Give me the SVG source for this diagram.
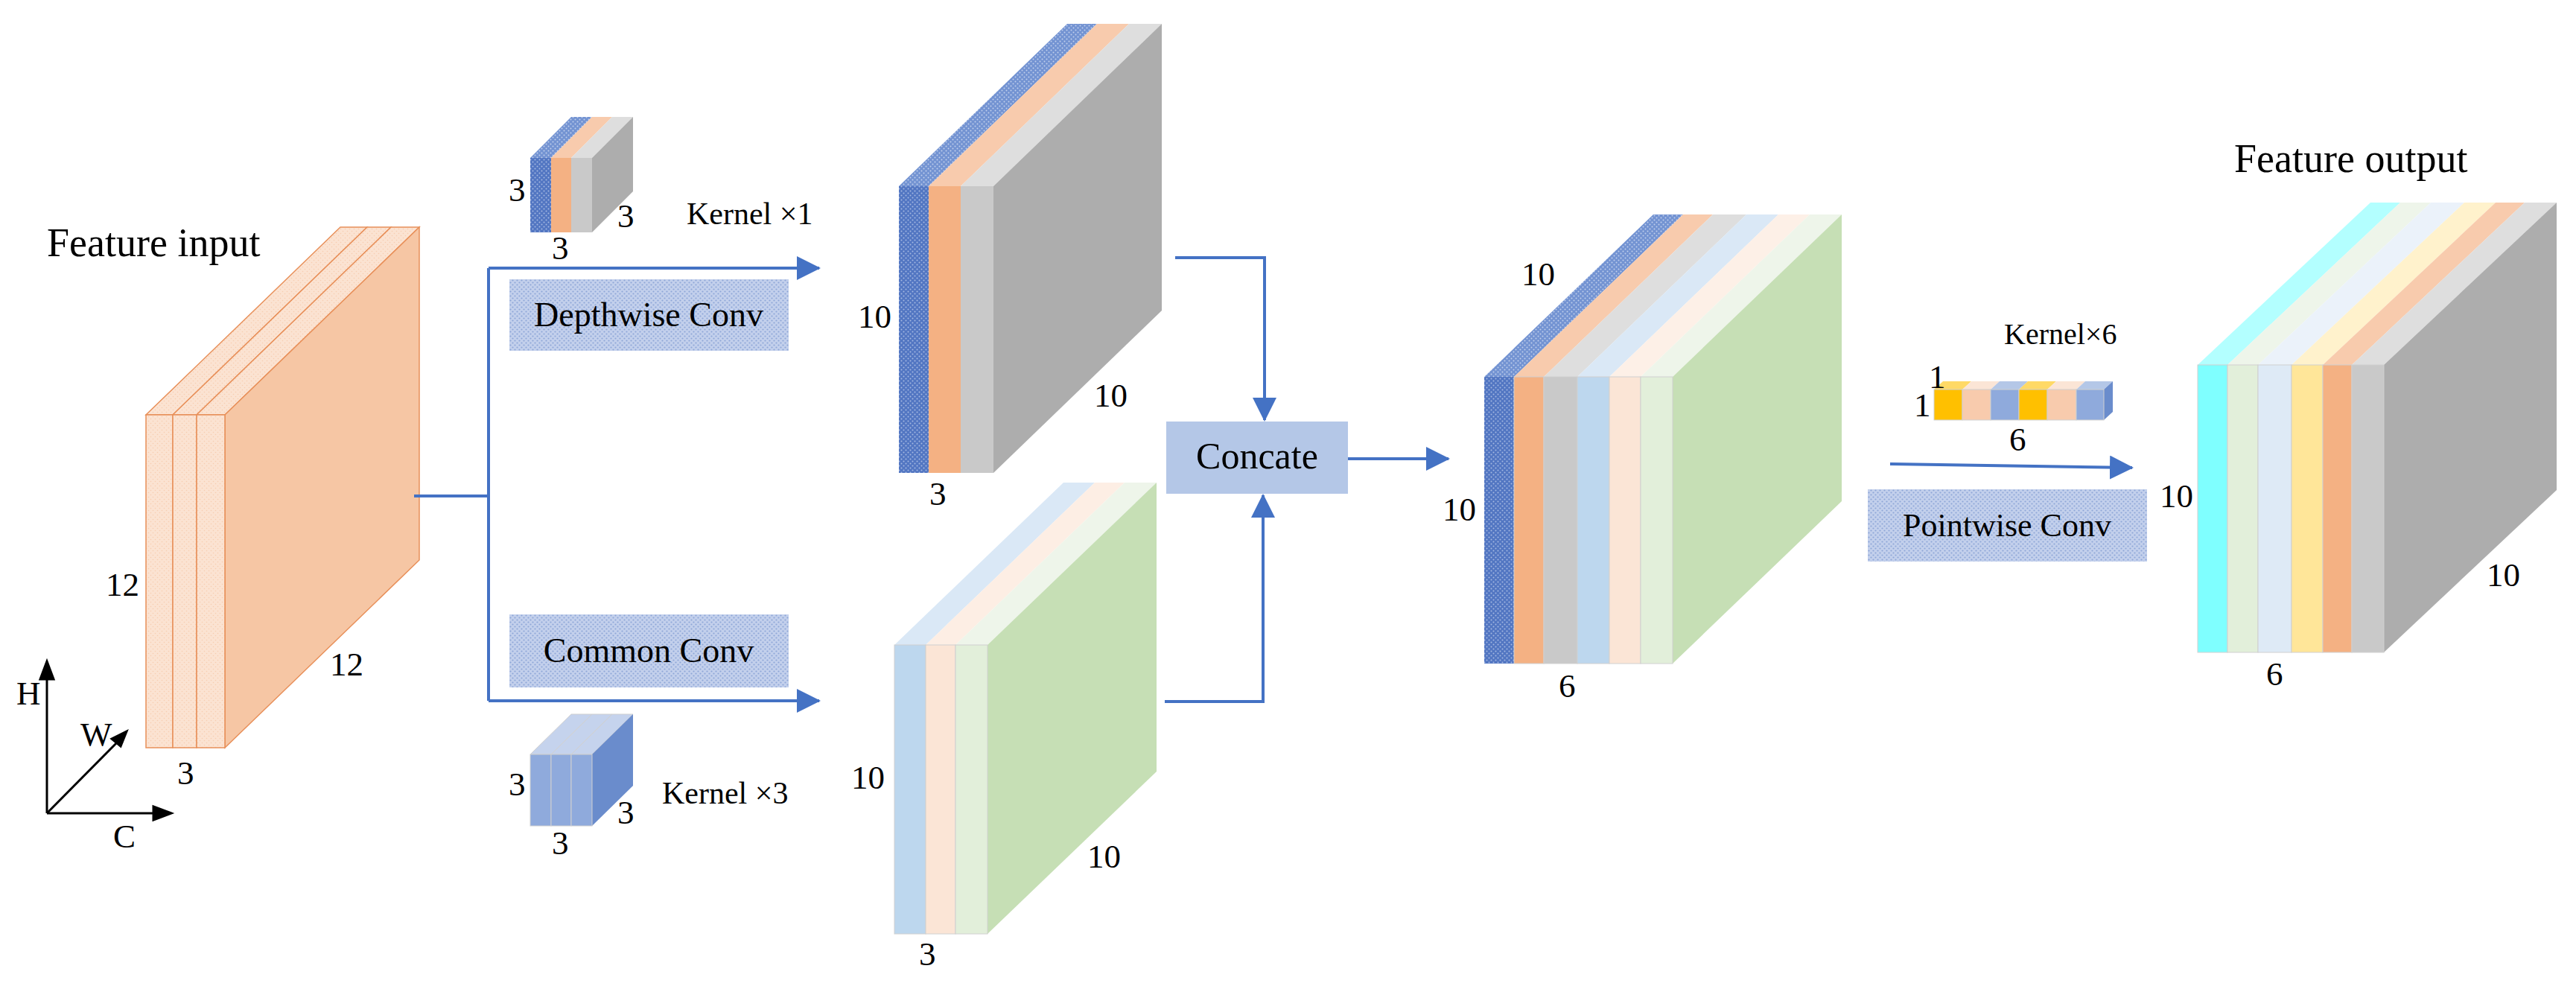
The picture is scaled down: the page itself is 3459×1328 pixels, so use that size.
<svg xmlns="http://www.w3.org/2000/svg" width="3459" height="1328" viewBox="0 0 3459 1328">
<style>
text{font-family:"Liberation Serif","DejaVu Serif",serif;fill:#000}
.n{font-size:45px}
.t{font-size:54px}
.c{stroke:#4472c4;stroke-width:4;fill:none}
.e{stroke:#d0d0d0;stroke-width:1}
</style>
<defs>
<pattern id="pb" width="6" height="6" patternUnits="userSpaceOnUse"><rect width="6" height="6" fill="#5276c2"/><circle cx="1.5" cy="1.5" r="1" fill="#a5b9e2"/><circle cx="4.5" cy="4.5" r="1" fill="#a5b9e2"/></pattern>
<pattern id="pbt" width="6" height="6" patternUnits="userSpaceOnUse"><rect width="6" height="6" fill="#7393d2"/><circle cx="1.5" cy="1.5" r="1" fill="#c0cfec"/><circle cx="4.5" cy="4.5" r="1" fill="#c0cfec"/></pattern>
<pattern id="pl" width="6" height="6" patternUnits="userSpaceOnUse"><rect width="6" height="6" fill="#c3d0ec"/><circle cx="1.5" cy="1.5" r="1.1" fill="#8fa7d8"/><circle cx="4.5" cy="4.5" r="1.1" fill="#8fa7d8"/></pattern>
<pattern id="po" width="6" height="6" patternUnits="userSpaceOnUse"><rect width="6" height="6" fill="#fbe3d2"/><circle cx="1.5" cy="1.5" r="0.8" fill="#f7cdb0"/><circle cx="4.5" cy="4.5" r="0.8" fill="#f7cdb0"/></pattern>
<marker id="ar" markerWidth="8" markerHeight="8" refX="7.5" refY="4" orient="auto" markerUnits="strokeWidth"><path d="M0,0 L8,4 L0,8 Z" fill="#4472c4"/></marker>
</defs>

<g id="feature-input">
<g stroke="#e8905a" stroke-width="1.5">
<polygon points="196,557 232,557 493,305 457,305" fill="url(#po)"/>
<polygon points="232,557 264,557 525,305 493,305" fill="url(#po)"/>
<polygon points="264,557 302,557 563,305 525,305" fill="url(#po)"/>
<polygon points="302,557 563,305 563,752 302,1004" fill="#f6c6a4"/>
<rect x="196" y="557" width="36" height="447" fill="url(#po)"/>
<rect x="232" y="557" width="32" height="447" fill="url(#po)"/>
<rect x="264" y="557" width="38" height="447" fill="url(#po)"/>
</g>
<text class="t" x="63" y="344">Feature input</text>
<text class="n" x="142" y="800">12</text>
<text class="n" x="443" y="907">12</text>
<text class="n" x="238" y="1053">3</text>
</g>

<g id="axes" stroke="#000" stroke-width="3" fill="none">
<line x1="63" y1="1092" x2="63" y2="906"/><polygon points="63,888 54,912 72,912" fill="#000"/>
<line x1="63" y1="1092" x2="212" y2="1092"/><polygon points="230,1092 206,1083 206,1101" fill="#000"/>
<line x1="63" y1="1092" x2="160" y2="994"/><polygon points="170,982 150,992 162,1002" fill="#000"/>
</g>
<g id="axis-labels">
<text class="n" x="22" y="946">H</text>
<text class="n" x="108" y="1001">W</text>
<text class="n" x="152" y="1138">C</text>
</g>

<g id="kernel1">
<polygon points="712,212 740,212 795,157 767,157" fill="url(#pbt)"/>
<polygon points="740,212 767,212 822,157 795,157" fill="#f8cbad"/>
<polygon points="767,212 795,212 850,157 822,157" fill="#dedede"/>
<polygon points="795,212 850,157 850,257 795,312" fill="#adadad"/>
<rect x="712" y="212" width="28" height="100" fill="url(#pb)"/>
<rect x="740" y="212" width="27" height="100" fill="#f4b183"/>
<rect x="767" y="212" width="28" height="100" fill="#c9c9c9"/>
<text class="n" x="683" y="270">3</text>
<text class="n" x="829" y="305">3</text>
<text class="n" x="741" y="348">3</text>
<text x="922" y="301" style="font-size:42px">Kernel ×1</text>
</g>

<g id="kernel3">
<polygon points="712,1013 740,1013 795,959 767,959" fill="#c5d3ed" class="e"/>
<polygon points="740,1013 767,1013 822,959 795,959" fill="#c5d3ed" class="e"/>
<polygon points="767,1013 795,1013 850,959 822,959" fill="#c5d3ed" class="e"/>
<polygon points="795,1013 850,959 850,1055 795,1109" fill="#6a8ccc"/>
<rect x="712" y="1013" width="28" height="96" fill="#8faadc" class="e"/>
<rect x="740" y="1013" width="27" height="96" fill="#8faadc" class="e"/>
<rect x="767" y="1013" width="28" height="96" fill="#8faadc" class="e"/>
<text class="n" x="683" y="1068">3</text>
<text class="n" x="829" y="1106">3</text>
<text class="n" x="741" y="1147">3</text>
<text x="889" y="1079" style="font-size:42px">Kernel ×3</text>
</g>

<g id="depthwise-conv">
<rect x="684" y="375" width="375" height="96" fill="url(#pl)"/>
<text x="871" y="438" text-anchor="middle" style="font-size:46px">Depthwise Conv</text>
</g>
<g id="common-conv">
<rect x="684" y="825" width="375" height="98" fill="url(#pl)"/>
<text x="871" y="889" text-anchor="middle" style="font-size:46px">Common Conv</text>
</g>

<g id="dw-output">
<polygon points="1207,250 1247,250 1473,32 1433,32" fill="url(#pbt)"/>
<polygon points="1247,250 1290,250 1516,32 1473,32" fill="#f8cbad"/>
<polygon points="1290,250 1334,250 1560,32 1516,32" fill="#dedede"/>
<polygon points="1334,250 1560,32 1560,417 1334,635" fill="#adadad"/>
<rect x="1207" y="250" width="40" height="385" fill="url(#pb)"/>
<rect x="1247" y="250" width="43" height="385" fill="#f4b183"/>
<rect x="1290" y="250" width="44" height="385" fill="#c9c9c9"/>
<text class="n" x="1152" y="440">10</text>
<text class="n" x="1469" y="546">10</text>
<text class="n" x="1248" y="678">3</text>
</g>

<g id="cc-output">
<polygon points="1201,866 1243,866 1470,648 1428,648" fill="#dae8f6"/>
<polygon points="1243,866 1283,866 1510,648 1470,648" fill="#fdeee4"/>
<polygon points="1283,866 1326,866 1553,648 1510,648" fill="#eef5ea"/>
<polygon points="1326,866 1553,648 1553,1036 1326,1254" fill="#c6dfb5"/>
<rect x="1201" y="866" width="42" height="388" fill="#bdd7ee" class="e"/>
<rect x="1243" y="866" width="40" height="388" fill="#fbe5d6" class="e"/>
<rect x="1283" y="866" width="43" height="388" fill="#e2efda" class="e"/>
<text class="n" x="1143" y="1059">10</text>
<text class="n" x="1460" y="1165">10</text>
<text class="n" x="1234" y="1296">3</text>
</g>

<g id="concate">
<rect x="1566" y="566" width="244" height="97" fill="#b4c7e7"/>
<text x="1688" y="629" text-anchor="middle" style="font-size:50px">Concate</text>
</g>

<g id="concat-output">
<polygon points="1993,506 2033,506 2260,288 2220,288" fill="url(#pbt)"/>
<polygon points="2033,506 2073,506 2300,288 2260,288" fill="#f8cbad"/>
<polygon points="2073,506 2118,506 2345,288 2300,288" fill="#dedede"/>
<polygon points="2118,506 2161,506 2388,288 2345,288" fill="#dae8f6"/>
<polygon points="2161,506 2203,506 2430,288 2388,288" fill="#fdf0e7"/>
<polygon points="2203,506 2246,506 2473,288 2430,288" fill="#eef5ea"/>
<polygon points="2246,506 2473,288 2473,673 2246,891" fill="#c6dfb5"/>
<rect x="1993" y="506" width="40" height="385" fill="url(#pb)"/>
<rect x="2033" y="506" width="40" height="385" fill="#f4b183" class="e"/>
<rect x="2073" y="506" width="45" height="385" fill="#c9c9c9" class="e"/>
<rect x="2118" y="506" width="43" height="385" fill="#bdd7ee" class="e"/>
<rect x="2161" y="506" width="42" height="385" fill="#fbe5d6" class="e"/>
<rect x="2203" y="506" width="43" height="385" fill="#e2efda" class="e"/>
<text class="n" x="2043" y="383">10</text>
<text class="n" x="1937" y="699">10</text>
<text class="n" x="2093" y="936">6</text>
</g>

<g id="kernel6">
<polygon points="2597,523 2635,523 2647,512 2609,512" fill="#ffd966"/>
<polygon points="2635,523 2673,523 2685,512 2647,512" fill="#fbe5d6"/>
<polygon points="2673,523 2711,523 2723,512 2685,512" fill="#b4c7e7"/>
<polygon points="2711,523 2749,523 2761,512 2723,512" fill="#ffd966"/>
<polygon points="2749,523 2788,523 2800,512 2761,512" fill="#fbe5d6"/>
<polygon points="2788,523 2825,523 2837,512 2800,512" fill="#b4c7e7"/>
<polygon points="2825,523 2837,512 2837,553 2825,564" fill="#6a8ccc"/>
<rect x="2597" y="523" width="38" height="41" fill="#ffc000" class="e"/>
<rect x="2635" y="523" width="38" height="41" fill="#f8cbad" class="e"/>
<rect x="2673" y="523" width="38" height="41" fill="#8faadc" class="e"/>
<rect x="2711" y="523" width="38" height="41" fill="#ffc000" class="e"/>
<rect x="2749" y="523" width="39" height="41" fill="#f8cbad" class="e"/>
<rect x="2788" y="523" width="37" height="41" fill="#8faadc" class="e"/>
<text class="n" x="2590" y="521">1</text>
<text class="n" x="2570" y="559">1</text>
<text class="n" x="2698" y="605">6</text>
<text x="2691" y="462" style="font-size:40px">Kernel×6</text>
</g>

<g id="pointwise-conv">
<rect x="2508" y="657" width="375" height="97" fill="url(#pl)"/>
<text x="2695" y="720" text-anchor="middle" style="font-size:44px">Pointwise Conv</text>
</g>

<g id="feature-output">
<polygon points="2951,490 2991,490 3223,272 3183,272" fill="#b3ffff"/>
<polygon points="2991,490 3032,490 3264,272 3223,272" fill="#eef5ea"/>
<polygon points="3032,490 3077,490 3309,272 3264,272" fill="#ebf2fa"/>
<polygon points="3077,490 3119,490 3351,272 3309,272" fill="#fff2cc"/>
<polygon points="3119,490 3158,490 3390,272 3351,272" fill="#f8cbad"/>
<polygon points="3158,490 3201,490 3433,272 3390,272" fill="#dedede"/>
<polygon points="3201,490 3433,272 3433,658 3201,876" fill="#adadad"/>
<rect x="2951" y="490" width="40" height="386" fill="#7fffff" class="e"/>
<rect x="2991" y="490" width="41" height="386" fill="#e2efda" class="e"/>
<rect x="3032" y="490" width="45" height="386" fill="#deeaf6" class="e"/>
<rect x="3077" y="490" width="42" height="386" fill="#ffe699" class="e"/>
<rect x="3119" y="490" width="39" height="386" fill="#f4b183" class="e"/>
<rect x="3158" y="490" width="43" height="386" fill="#c9c9c9" class="e"/>
<text class="t" x="3000" y="231">Feature output</text>
<text class="n" x="2900" y="681">10</text>
<text class="n" x="3339" y="787">10</text>
<text class="n" x="3043" y="920">6</text>
</g>

<g id="connectors">
<polyline class="c" points="556,666 656,666"/>
<polyline class="c" points="656,360 656,941"/>
<polyline class="c" points="656,360 1100,360" marker-end="url(#ar)"/>
<polyline class="c" points="656,941 1100,941" marker-end="url(#ar)"/>
<polyline class="c" points="1578,346 1698,346 1698,564" marker-end="url(#ar)"/>
<polyline class="c" points="1564,942 1696,942 1696,665" marker-end="url(#ar)"/>
<polyline class="c" points="1810,616 1945,616" marker-end="url(#ar)"/>
<polyline class="c" points="2538,623 2863,628" marker-end="url(#ar)"/>
</g>
</svg>
